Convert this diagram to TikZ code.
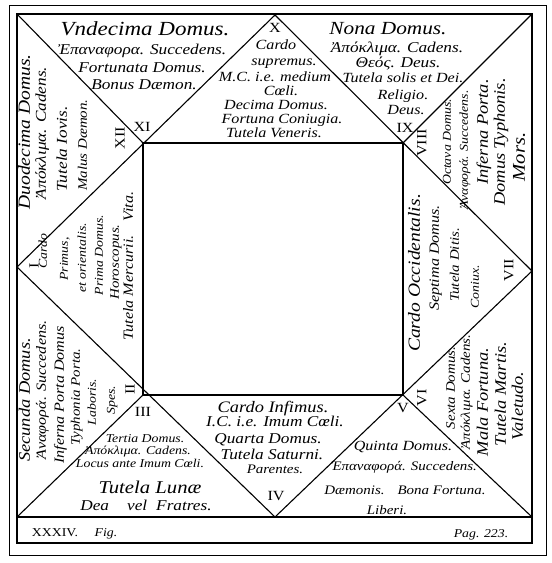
\documentclass[tikz,border=0pt]{standalone}
\usepackage{fontspec}
\setmainfont{Liberation Serif}[FakeStretch=1.15]
\tikzset{
  frame/.style={line width=1.1pt},
  txt/.style={font=\itshape\fontsize{#1}{#1}\selectfont, inner sep=0pt, text height=1.5ex, text depth=.25ex},
  txt/.default=15,
  side/.style={txt=#1, rotate=90},
  side/.default=15,
  num/.style={font=\fontsize{14}{14}\selectfont, inner sep=0pt},
  sidenum/.style={num, rotate=90}
}
\begin{document}
\begin{tikzpicture}[x=1pt,y=-1pt]
  \useasboundingbox (0,0) rectangle (552,563);
  % outer frame and caption strip
  \draw[line width=0.9pt] (9,5) rectangle (546,555);
  \coordinate (A) at (17,14);
  \coordinate (B) at (532,14);
  \coordinate (C) at (532,517);
  \coordinate (D) at (17,517);
  \coordinate (Cs) at (532,543);
  \coordinate (Ds) at (17,543);
  % cardines
  \coordinate (T) at (275,15);
  \coordinate (R) at (532,271);
  \coordinate (Bm) at (275,517);
  \coordinate (L) at (17,267);
  % inner square
  \coordinate (p11) at (143,143);
  \coordinate (p9) at (403,143);
  \coordinate (p5) at (403,395);
  \coordinate (p3) at (143,395);
  \draw[frame] (A) -- (B) -- (C) -- (D) -- cycle;
  \draw[frame] (D) -- (Ds) -- (Cs) -- (C);
  \draw[frame] (T) -- (R) -- (Bm) -- (L) -- cycle;
  \draw[frame] (A) -- (p11) (B) -- (p9) (C) -- (p5) (D) -- (p3);
  \draw[frame] (p11) -- (p9) -- (p5) -- (p3) -- cycle;

  % numbers of the houses
  \node[num] (n10) at (275,28) {X};
  \node[num] (n11) at (142,127) {XI};
  \node[sidenum] (n12) at (120,138) {XII};
  \node[sidenum] (n1) at (34,266) {I};
  \node[sidenum] (n2) at (130,389) {II};
  \node[num] (n3) at (143,412) {III};
  \node[num] (n4) at (276,496) {IV};
  \node[num] (n5) at (403,408) {V};
  \node[sidenum] (n6) at (422,398) {VI};
  \node[sidenum] (n7) at (509,270) {VII};
  \node[sidenum] (n8) at (422,143) {VIII};
  \node[num] (n9) at (405,128) {IX};

  % XI
  \node[txt=20] (h11a) at (145,33) {Vndecima Domus.};
  \node[txt] (h11b) at (142,52) {Ἐπαναφορα. Succedens.};
  \node[txt] (h11c) at (142,70) {Fortunata Domus.};
  \node[txt] (h11d) at (144,87) {Bonus Dæmon.};
  % X
  \node[txt=14] (h10a) at (276,47) {Cardo};
  \node[txt=14] (h10b) at (284,63) {supremus.};
  \node[txt=14] (h10c) at (275,79) {M.C. i.e. medium};
  \node[txt=14] (h10d) at (281,93) {Cœli.};
  \node[txt=14] (h10e) at (276,107) {Decima Domus.};
  \node[txt=14] (h10f) at (282,121) {Fortuna Coniugia.};
  \node[txt=14] (h10g) at (274,135) {Tutela Veneris.};
  % IX
  \node[txt=18.5] (h9a) at (388,32) {Nona Domus.};
  \node[txt] (h9b) at (397,50) {Ἀπόκλιμα. Cadens.};
  \node[txt] (h9c) at (398,65) {Θεός. Deus.};
  \node[txt=14] (h9d) at (403,80) {Tutela solis et Dei.};
  \node[txt=14] (h9e) at (403,97) {Religio.};
  \node[txt=14] (h9f) at (406,112) {Deus.};
  % XII
  \node[side=17] (h12a) at (27,132) {Duodecima Domus.};
  \node[side] (h12b) at (43,133) {Ἀπόκλιμα. Cadens.};
  \node[side] (h12c) at (64,149) {Tutela Iovis.};
  \node[side=13] (h12d) at (84,145) {Malus Dæmon.};
  % I
  \node[side=12] (h1a) at (44,251) {Cardo};
  \node[side=12] (h1b) at (65,259) {Primus,};
  \node[side=12] (h1c) at (83,258) {et orientalis.};
  \node[side=12] (h1d) at (100,255) {Prima Domus.};
  \node[side=13] (h1e) at (116,262) {Horoscopus.};
  \node[side=14] (h1f) at (130,266) {Tutela Mercurii.\hspace{1em}Vita.};
  % II
  \node[side=16] (h2a) at (27,400) {Secunda Domus.};
  \node[side=14] (h2b) at (43,390) {Ἀναφορά. Succedens.};
  \node[side=14] (h2c) at (61,395) {Inferna Porta Domus};
  \node[side=13] (h2d) at (77,397) {Typhonia Porta.};
  \node[side=12] (h2e) at (93,402) {Laboris.};
  \node[side=12] (h2f) at (112,400) {Spes.};
  % III
  \node[txt=12] (h3a) at (145,440) {Tertia Domus.};
  \node[txt=12] (h3b) at (138,452) {Ἀπόκλιμα. Cadens.};
  \node[txt=12] (h3c) at (140,465) {Locus ante Imum Cœli.};
  \node[txt=18] (h3d) at (150,491) {Tutela Lunæ};
  \node[txt] (h3e) at (146,508) {Dea\hspace{1.2em}vel\hspace{.6em}Fratres.};
  % IV
  \node[txt=16] (h4a) at (273,410) {Cardo Infimus.};
  \node[txt] (h4b) at (275,424) {I.C. i.e. Imum Cœli.};
  \node[txt] (h4c) at (268,441) {Quarta Domus.};
  \node[txt] (h4d) at (272,457) {Tutela Saturni.};
  \node[txt=13] (h4e) at (275,471) {Parentes.};
  % V
  \node[txt=14] (h5a) at (403,448) {Quinta Domus.};
  \node[txt=13] (h5b) at (404,468) {Ἐπαναφορά. Succedens.};
  \node[txt=13] (h5c) at (405,492) {Dæmonis.\hspace{1em}Bona Fortuna.};
  \node[txt=13] (h5d) at (387,512) {Liberi.};
  % VI
  \node[side=13] (h6a) at (452,388) {Sexta Domus.};
  \node[side=13] (h6b) at (467,392) {Ἀπόκλιμα. Cadens.};
  \node[side=16] (h6c) at (485,402) {Mala Fortuna.};
  \node[side=16] (h6d) at (503,394) {Tutela Martis.};
  \node[side=16] (h6e) at (520,406) {Valetudo.};
  % VII
  \node[side=17] (h7a) at (417,273) {Cardo Occidentalis.};
  \node[side=14] (h7b) at (436,258) {Septima Domus.};
  \node[side=13] (h7c) at (456,265) {Tutela Ditis.};
  \node[side=12] (h7d) at (476,287) {Coniux.};
  % VIII
  \node[side=12] (h8a) at (448,142) {Octava Domus.};
  \node[side=12] (h8b) at (465,150) {Ἀναφορά. Succedens.};
  \node[side=16] (h8c) at (485,132) {Inferna Porta.};
  \node[side=16] (h8d) at (502,142) {Domus Typhonis.};
  \node[side=18] (h8e) at (522,157) {Mors.};

  % caption
  \node[num, font=\fontsize{12}{12}\selectfont] (fig) at (55,533) {XXXIV.};
  \node[txt=12] (figl) at (106,534) {Fig.};
  \node[txt=12] (pag) at (481,535) {Pag. 223.};
\end{tikzpicture}
\end{document}
